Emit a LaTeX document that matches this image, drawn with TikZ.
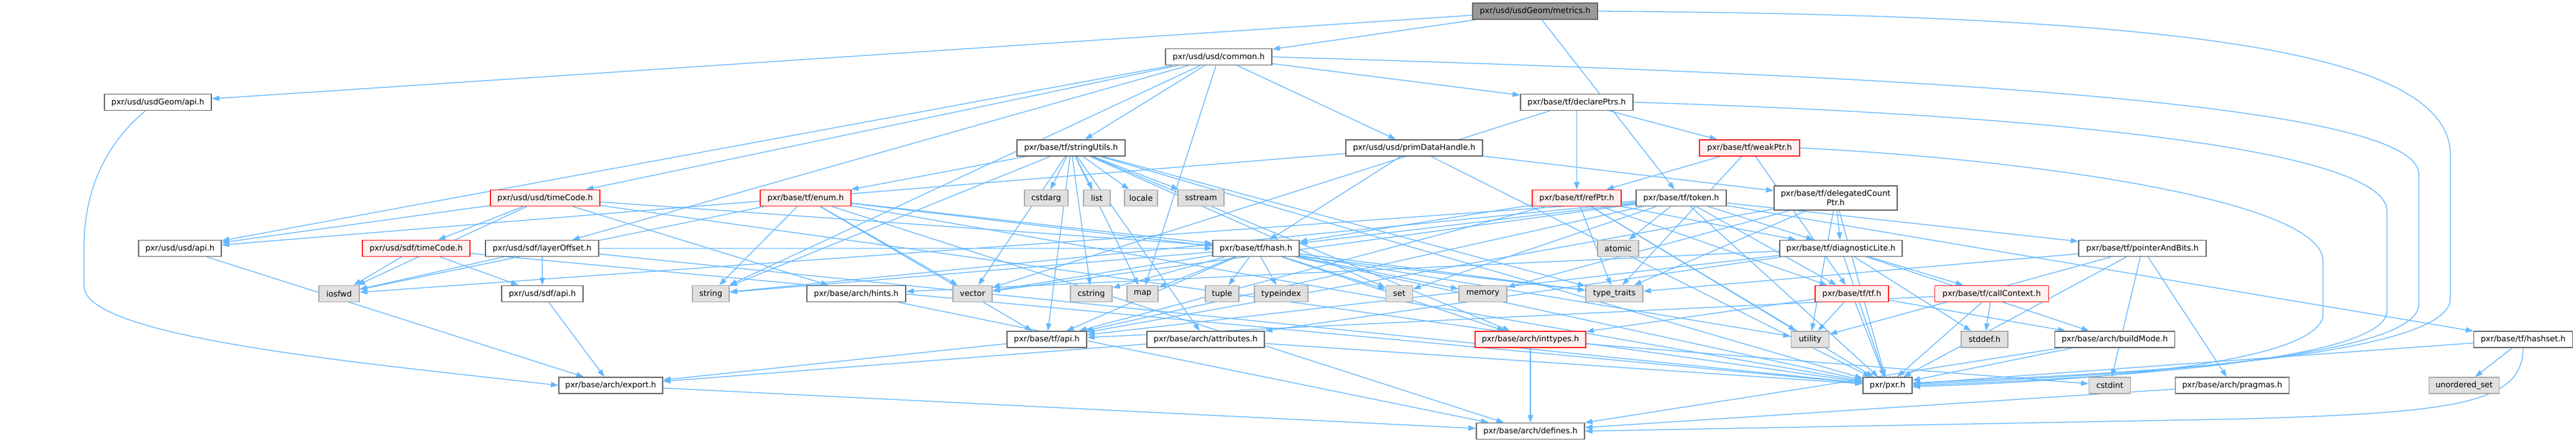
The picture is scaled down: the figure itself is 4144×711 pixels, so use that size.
\documentclass[tikz,border=0pt]{standalone}
\usepackage{fontspec}
\newfontfamily\dejavu{DejaVu Sans}
\usetikzlibrary{arrows.meta}
\pgfdeclarelayer{bg}
\pgfsetlayers{bg,main}
\definecolor{edgeblue}{HTML}{63B8FF}
\definecolor{greyforty}{HTML}{666666}
\definecolor{greysixty}{HTML}{999999}
\definecolor{greyext}{HTML}{E0E0E0}
\definecolor{greyextb}{HTML}{AAAAAA}
\definecolor{truncfill}{HTML}{FFF0F0}
\definecolor{truncb}{HTML}{FF2020}
\newcommand\mynode[6]{\node[#1,minimum width=#2pt] (#3) at (#4,#5) {#6};}
\begin{document}
\begin{tikzpicture}[x=1pt,y=-1pt,
  nb/.style={draw=greyforty, fill=white, line width=1.6pt, minimum height=26pt, inner sep=0pt,
             font=\dejavu\fontsize{12.8}{15}\selectfont},
  root/.style={nb, fill=greysixty},
  ext/.style={nb, draw=greyextb, fill=greyext},
  trunc/.style={nb, draw=truncb, fill=truncfill},
  edge/.style={draw=edgeblue, line width=1.3pt, -{Triangle[length=12pt,width=8.5pt]}}]
\useasboundingbox (0,0) rectangle (4144,711);
% rank 0
\mynode{root}{201}{metrics}{2469.5}{18}{pxr/usd/usdGeom/metrics.h}
% rank 1
\mynode{nb}{171}{common}{1960.5}{91.5}{pxr/usd/usd/common.h}
% rank 2
\mynode{nb}{172}{geomapi}{254}{164.5}{pxr/usd/usdGeom/api.h}
\mynode{nb}{181}{declareptrs}{2536.5}{164.5}{pxr/base/tf/declarePtrs.h}
% rank 3
\mynode{nb}{174}{stringutils}{1723}{238}{pxr/base/tf/stringUtils.h}
\mynode{nb}{220}{primdh}{2275}{238}{pxr/usd/usd/primDataHandle.h}
\mynode{trunc}{161}{weakptr}{2814.5}{238}{pxr/base/tf/weakPtr.h}
% rank 4
\mynode{trunc}{176}{usdtc}{877}{318.5}{pxr/usd/usd/timeCode.h}
\mynode{trunc}{146}{enum}{1296}{318.5}{pxr/base/tf/enum.h}
\mynode{ext}{70}{cstdarg}{1683}{318.5}{cstdarg}
\mynode{ext}{43}{list}{1764.5}{318.5}{list}
\mynode{ext}{53}{locale}{1835.5}{318.5}{locale}
\mynode{ext}{74}{sstream}{1932}{318.5}{sstream}
\mynode{trunc}{143}{refptr}{2536.5}{318.5}{pxr/base/tf/refPtr.h}
\mynode{nb}{145}{token}{2704.5}{318.5}{pxr/base/tf/token.h}
\node[nb,minimum width=198pt,minimum height=39pt,align=center] (delegated) at (2953,318.5) {pxr/base/tf/delegatedCount\\Ptr.h};
% rank 5
\mynode{nb}{133}{usdapi}{289.5}{399.5}{pxr/usd/usd/api.h}
\mynode{trunc}{173}{sdftc}{669.5}{399.5}{pxr/usd/sdf/timeCode.h}
\mynode{nb}{182}{layeroff}{872}{399.5}{pxr/usd/sdf/layerOffset.h}
\mynode{nb}{139}{hash}{2020.5}{399.5}{pxr/base/tf/hash.h}
\mynode{ext}{66}{atomic}{2603}{399.5}{atomic}
\mynode{nb}{197}{diaglite}{2961.5}{399.5}{pxr/base/tf/diagnosticLite.h}
\mynode{nb}{205}{pointerandbits}{3446.5}{399.5}{pxr/base/tf/pointerAndBits.h}
% rank 6
\mynode{ext}{65}{iosfwd}{545.5}{472.5}{iosfwd}
\mynode{nb}{131}{sdfapi}{872.5}{472.5}{pxr/usd/sdf/api.h}
\mynode{ext}{59}{string}{1143.5}{472.5}{string}
\mynode{nb}{159}{hints}{1377.5}{472.5}{pxr/base/arch/hints.h}
\mynode{ext}{63}{vector}{1564.5}{472.5}{vector}
\mynode{ext}{67}{cstring}{1755.5}{472.5}{cstring}
\mynode{ext}{50}{map}{1838}{472.5}{map}
\mynode{ext}{54}{tuple}{1966}{472.5}{tuple}
\mynode{ext}{86}{typeindex}{2061}{472.5}{typeindex}
\mynode{ext}{43}{set}{2251}{472.5}{set}
\mynode{ext}{77}{memory}{2385.5}{472.5}{memory}
\mynode{ext}{92}{typetraits}{2597}{472.5}{type\_traits}
\mynode{trunc}{118}{tftf}{2979}{472.5}{pxr/base/tf/tf.h}
\mynode{trunc}{183}{callcontext}{3204}{472.5}{pxr/base/tf/callContext.h}
% rank 7
\mynode{nb}{128}{tfapi}{1684}{546}{pxr/base/tf/api.h}
\mynode{nb}{189}{attributes}{1939.5}{546}{pxr/base/arch/attributes.h}
\mynode{trunc}{178}{inttypes}{2462}{546}{pxr/base/arch/inttypes.h}
\mynode{ext}{61}{utility}{2912}{546}{utility}
\mynode{ext}{75}{stddef}{3192.5}{546}{stddef.h}
\mynode{nb}{193}{buildmode}{3402}{546}{pxr/base/arch/buildMode.h}
\mynode{nb}{159}{hashset}{4059}{546}{pxr/base/tf/hashset.h}
% rank 8
\mynode{nb}{167}{export}{982.5}{620}{pxr/base/arch/export.h}
\mynode{nb}{79}{pxr}{3036.5}{620}{pxr/pxr.h}
\mynode{ext}{67}{cstdint}{3394}{620}{cstdint}
\mynode{nb}{183}{pragmas}{3591}{620}{pxr/base/arch/pragmas.h}
\mynode{ext}{113}{unorderedset}{3964}{620}{unordered\_set}
% rank 9
\mynode{nb}{174}{defines}{2462}{693.5}{pxr/base/arch/defines.h}

\begin{pgfonlayer}{bg}
\fill[white] (0,0) rectangle (4144,711);
\foreach \a/\b in {
 metrics/geomapi, metrics/common, metrics/token,
 common/usdapi, common/usdtc, common/layeroff, common/stringutils, common/primdh, common/declareptrs, common/string, common/map,
 usdapi/export,
 usdtc/usdapi, usdtc/sdftc, usdtc/hints, usdtc/hash, usdtc/iosfwd, usdtc/pxr,
 sdftc/sdfapi, sdftc/iosfwd, sdftc/pxr,
 layeroff/sdfapi, layeroff/iosfwd, layeroff/hash, layeroff/pxr,
 sdfapi/export,
 stringutils/pxr, stringutils/attributes, stringutils/inttypes, stringutils/tfapi, stringutils/enum,
 stringutils/cstdarg, stringutils/cstring, stringutils/list, stringutils/locale, stringutils/map,
 stringutils/set, stringutils/sstream, stringutils/string, stringutils/typetraits, stringutils/vector,
 enum/pxr, enum/defines, enum/tfapi, enum/hash, enum/iosfwd, enum/string, enum/vector, enum/typetraits,
 hash/pxr, hash/tfapi, hash/inttypes, hash/cstring, hash/string, hash/map, hash/memory, hash/typeindex,
 hash/typetraits, hash/utility, hash/vector, hash/set, hash/tuple,
 tfapi/export, attributes/pxr, attributes/export, hints/defines, export/defines,
 inttypes/defines, inttypes/cstdint,
 declareptrs/weakptr, declareptrs/refptr, declareptrs/vector,
 primdh/pxr, primdh/usdapi, primdh/delegated, primdh/hash,
 weakptr/refptr, weakptr/tftf, weakptr/typetraits,
 refptr/pxr, refptr/tfapi, refptr/diaglite, refptr/hash, refptr/tftf, refptr/typetraits, refptr/utility,
 token/pxr, token/tfapi, token/diaglite, token/hash, token/pointerandbits, token/tftf, token/hashset,
 token/atomic, token/iosfwd, token/string, token/vector, token/set,
 delegated/pxr, delegated/tfapi, delegated/diaglite, delegated/memory, delegated/typetraits, delegated/utility,
 diaglite/pxr, diaglite/tfapi, diaglite/attributes, diaglite/buildmode, diaglite/hints, diaglite/callcontext, diaglite/stddef,
 callcontext/pxr, callcontext/tfapi, callcontext/stddef,
 tftf/pxr, tftf/buildmode, tftf/inttypes, tftf/utility,
 pointerandbits/pxr, pointerandbits/pragmas, pointerandbits/cstdint, pointerandbits/typetraits, pointerandbits/utility,
 buildmode/pxr, buildmode/defines, pragmas/defines,
 hashset/pxr, hashset/unorderedset}
 \draw[edge] (\a) -- (\b);
% routed edges
\draw[edge] (metrics.east) .. controls (3500,24) and (3942,80) .. (3942,250) -- (3942,480)
  .. controls (3942,585) and (3300,605) .. ([yshift=4pt]pxr.east);
\draw[edge] (common.east) .. controls (3000,120) and (3891,160) .. (3891,280) -- (3891,490)
  .. controls (3891,585) and (3300,608) .. ([yshift=2pt]pxr.east);
\draw[edge] (declareptrs.east) .. controls (3300,185) and (3840,240) .. (3840,340) -- (3840,500)
  .. controls (3840,588) and (3300,612) .. (pxr.east);
\draw[edge] (weakptr.east) .. controls (3250,255) and (3737,320) .. (3737,420) -- (3737,505)
  .. controls (3737,590) and (3300,615) .. ([yshift=-2pt]pxr.east);
\draw[edge] ([xshift=-20pt]geomapi.south) .. controls (160,240) and (135,320) .. (135,400) -- (135,460)
  .. controls (135,545) and (600,585) .. (export.west);
\draw[edge] (hashset.south) .. controls (4058,650) and (3950,664) .. (3600,674) -- (defines.east);
\end{pgfonlayer}
\end{tikzpicture}
\end{document}
